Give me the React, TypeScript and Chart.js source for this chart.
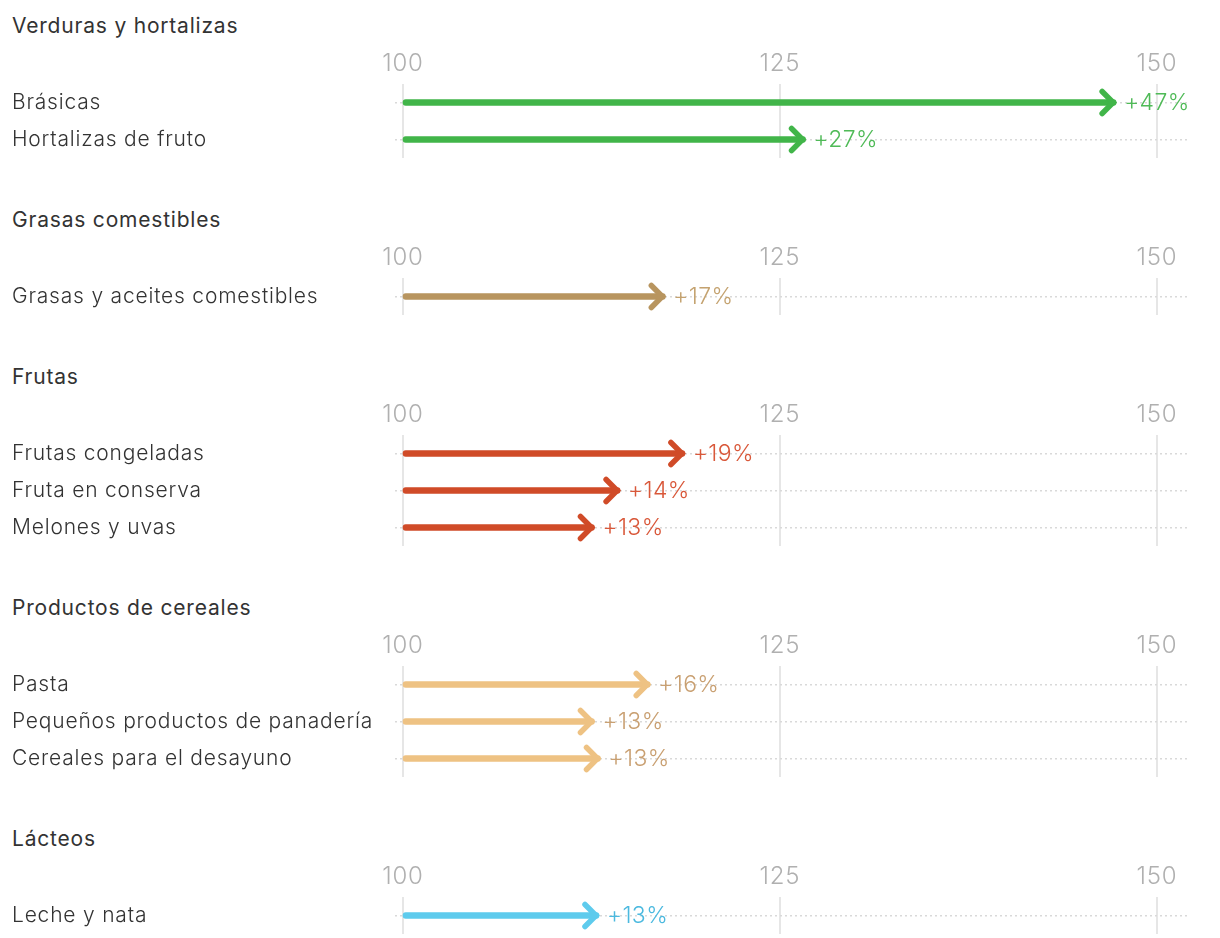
import React, { useEffect, useRef } from "react";
import { Chart, registerables } from "chart.js";

Chart.register(...registerables);

// ---- data ----
const groupTitles = [
  "Verduras y hortalizas",
  "Grasas comestibles",
  "Frutas",
  "Productos de cereales",
  "Lácteos",
];

const verdurasLabels = ["Brásicas", "Hortalizas de fruto"];
const verdurasChange = [47.3, 26.7];

const grasasLabels = ["Grasas y aceites comestibles"];
const grasasChange = [17.4];

const frutasLabels = ["Frutas congeladas", "Fruta en conserva", "Melones y uvas"];
const frutasChange = [18.7, 14.4, 12.7];

const cerealesLabels = ["Pasta", "Pequeños productos de panadería", "Cereales para el desayuno"];
const cerealesChange = [16.4, 12.7, 13.1];

const lacteosLabels = ["Leche y nata"];
const lacteosChange = [13.0];

const baseIndex = 100;
const tickValues = [100, 125, 150];

const lineColors = ["#41b549", "#b8955f", "#d04b28", "#eec283", "#5ecbed"];
const textColors = ["#4fba57", "#c4a26f", "#d9583a", "#c9a072", "#4bb9df"];

const FONT = "Inter, 'Noto Sans', sans-serif";
const ROW_H = 37;
const AXIS_H = 32;
const BOTTOM_PAD = 14;

type GroupProps = {
  title: string;
  labels: string[];
  change: number[];
  color: string;
  textColor: string;
};

const spacingPlugin = {
  id: "letterSpacing",
  beforeDraw(chart: any) {
    (chart.ctx as any).letterSpacing = "0.8px";
  },
};

const arrowPlugin = {
  id: "arrowHeads",
  afterDatasetsDraw(chart: any) {
    const meta = chart.getDatasetMeta(0);
    const xs = chart.scales.x;
    const ctx = chart.ctx;
    const opts = chart.options.plugins.arrowHeads || {};
    const change: number[] = opts.change || [];
    meta.data.forEach((el: any, i: number) => {
      const tip = xs.getPixelForValue(baseIndex + change[i]);
      const y = el.y;
      ctx.save();
      ctx.strokeStyle = opts.color;
      ctx.lineWidth = 5.5;
      ctx.lineJoin = "miter";
      ctx.lineCap = "round";
      const apex = tip - 3;
      ctx.beginPath();
      ctx.moveTo(apex - 11, y - 11);
      ctx.lineTo(apex, y);
      ctx.lineTo(apex - 11, y + 11);
      ctx.stroke();
      ctx.fillStyle = opts.textColor;
      ctx.font = `300 23px ${FONT}`;
      (ctx as any).letterSpacing = "0.4px";
      ctx.textAlign = "left";
      ctx.textBaseline = "middle";
      ctx.fillText(`+${Math.round(change[i])}%`, tip + 8, y + 1);
      ctx.restore();
    });
  },
};

function Group({ title, labels, change, color, textColor }: GroupProps) {
  const ref = useRef<HTMLCanvasElement | null>(null);
  const height = AXIS_H + ROW_H * labels.length + BOTTOM_PAD;

  useEffect(() => {
    if (!ref.current) return;
    const chart = new Chart(ref.current, {
      type: "bar",
      data: {
        labels,
        datasets: [
          {
            data: change.map((c) => [baseIndex, baseIndex + c]) as any,
            backgroundColor: color,
            barThickness: 6,
            borderRadius: 3,
            borderSkipped: false,
          },
        ],
      },
      options: {
        indexAxis: "y",
        animation: false,
        responsive: false,
        maintainAspectRatio: false,
        layout: { padding: { left: 12, right: 33, top: 0, bottom: BOTTOM_PAD } },
        plugins: {
          legend: { display: false },
          tooltip: { enabled: false },
          arrowHeads: { change, color, textColor },
        } as any,
        scales: {
          x: {
            position: "top",
            min: 99.47,
            max: 152,
            afterBuildTicks: (s: any) => {
              s.ticks = tickValues.map((v) => ({ value: v }));
            },
            afterFit: (s: any) => {
              s.height = AXIS_H;
            },
            ticks: {
              color: "#b0b0b0",
              font: { family: FONT, size: 24, weight: 300 as any },
              padding: 6,
              maxRotation: 0,
            },
            grid: { color: "#e6e6e6", lineWidth: 2, drawTicks: false },
            border: { display: false },
          },
          y: {
            afterFit: (s: any) => {
              s.width = 383;
            },
            ticks: {
              crossAlign: "far",
              color: "#333333",
              font: { family: FONT, size: 21, weight: 300 as any },
              padding: 0,
            },
            grid: { color: "#d9d9d9", lineWidth: 1.5, drawTicks: false, offset: false },
            border: { display: false, dash: [2, 3] },
          },
        },
      },
      plugins: [spacingPlugin, arrowPlugin],
    });
    return () => chart.destroy();
  }, []);

  return (
    <div style={{ marginBottom: 36 - BOTTOM_PAD }}>
      <div
        style={{
          height: 52,
          lineHeight: "52px",
          paddingLeft: 12,
          fontFamily: FONT,
          fontSize: 21,
          fontWeight: 400,
          letterSpacing: "0.8px",
          color: "#333",
        }}
      >
        {title}
      </div>
      <canvas ref={ref} width={1220} height={height} style={{ display: "block", width: 1220, height }} />
    </div>
  );
}

export default function App() {
  const groups = [
    { labels: verdurasLabels, change: verdurasChange },
    { labels: grasasLabels, change: grasasChange },
    { labels: frutasLabels, change: frutasChange },
    { labels: cerealesLabels, change: cerealesChange },
    { labels: lacteosLabels, change: lacteosChange },
  ];
  return (
    <div style={{ position: "absolute", left: 0, top: 0, width: 1220, background: "#fff" }}>
      {groups.map((g, i) => (
        <Group
          key={i}
          title={groupTitles[i]}
          labels={g.labels}
          change={g.change}
          color={lineColors[i]}
          textColor={textColors[i]}
        />
      ))}
    </div>
  );
}
